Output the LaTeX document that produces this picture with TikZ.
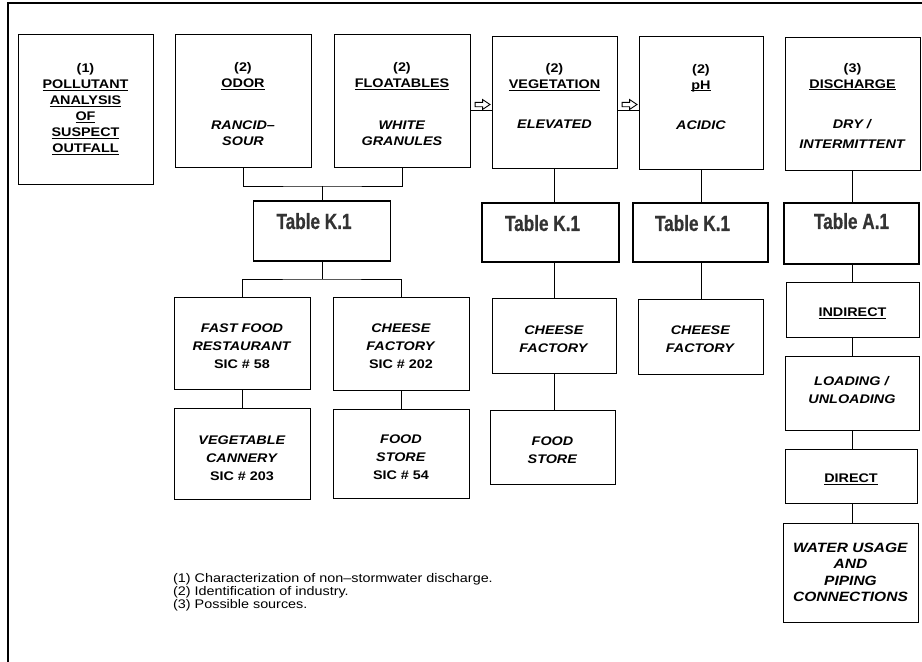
\documentclass[tikz,border=0pt]{standalone}
\usepackage{fontspec}
\setmainfont[FakeStretch=1.15]{Liberation Sans}
\newfontfamily\tabfont[FakeStretch=0.78,FakeBold=0.6]{Liberation Sans}
\usetikzlibrary{calc}
\definecolor{tabgray}{HTML}{333333}
\newsavebox\ulbox
\newcommand\ulx[1]{\sbox\ulbox{#1}\rlap{\rule[-2.4pt]{\wd\ulbox}{1.1pt}}\usebox\ulbox}
\newcommand\tp[1]{\rule{0pt}{#1pt}}
\newcommand\bt[1]{\rule[-#1pt]{0pt}{#1pt}}
\tikzset{
  bx/.style={draw, line width=0.9pt, inner sep=0pt, align=center,
    font=\bfseries\fontsize{12.5}{16}\selectfont},
  lbx/.style={bx, font=\bfseries\fontsize{12.5}{18}\selectfont},
  wbx/.style={bx, font=\bfseries\fontsize{13.5}{16.5}\selectfont},
  tbx/.style={draw, line width=1.8pt, inner sep=0pt},
  ttxt/.style={font=\tabfont\bfseries\fontsize{22}{24}\selectfont, text=tabgray, inner sep=0pt},
  conn/.style={line width=0.8pt},
  harrow/.style={line width=0.9pt, fill=white, line join=miter},
  frame/.style={line width=2pt},
  note/.style={align=left, inner sep=0pt, font=\fontsize{12.5}{12.8}\selectfont}
}
\begin{document}
\begin{tikzpicture}[x=1pt,y=-1pt]
\useasboundingbox (0,0) rectangle (922,662);
\draw[frame] (8,662) -- (8,3) -- (922,3);

% top row
\node[bx, minimum width=135pt, minimum height=150pt] (pol) at (85.5,109)
  {(1)\\ \ulx{POLLUTANT}\\ \ulx{ANALYSIS}\\ \ulx{OF}\\ \ulx{SUSPECT}\\ \ulx{OUTFALL}};
\node[bx, minimum width=136pt, minimum height=133pt] (odor) at (243,100.5)
  {\tp{17}(2)\\ \ulx{ODOR}\\[26pt] \textit{RANCID–}\\ \textit{SOUR}};
\node[bx, minimum width=136pt, minimum height=133pt] (flo) at (402,100.5)
  {\tp{17}(2)\\ \ulx{FLOATABLES}\\[26pt] \textit{WHITE}\\ \textit{GRANULES}};
\node[bx, minimum width=125pt, minimum height=132pt] (veg) at (554.5,102)
  {(2)\\ \ulx{VEGETATION}\\[24pt] \textit{ELEVATED}\bt{12}};
\node[bx, minimum width=124pt, minimum height=133pt] (ph) at (701,102.5)
  {(2)\\ \ulx{pH}\\[24pt] \textit{ACIDIC}\bt{12}};
\node[bx, minimum width=135pt, minimum height=133pt] (dis) at (852.5,103.5)
  {\tp{13}(3)\\ \ulx{DISCHARGE}\\[24pt] \textit{DRY /}\\[4pt] \textit{INTERMITTENT}};

% table boxes
\node[tbx, minimum width=137pt, minimum height=60pt] (tk1) at (322,231) {};
\node[ttxt] (tk1t) at ($(tk1.north)+(-8,21)$) {Table K.1};
\node[tbx, minimum width=137pt, minimum height=59pt] (tk2) at (550.5,232.5) {};
\node[ttxt] (tk2t) at ($(tk2.north)+(-8,21)$) {Table K.1};
\node[tbx, minimum width=135pt, minimum height=59pt] (tk3) at (700.5,232.5) {};
\node[ttxt] (tk3t) at ($(tk3.north)+(-8,21)$) {Table K.1};
\node[tbx, minimum width=135pt, minimum height=61pt] (ta1) at (851.5,233.5) {};
\node[ttxt] (ta1t) at ($(ta1.north)+(0,19)$) {Table A.1};

% lower boxes, left group
\node[lbx, minimum width=136pt, minimum height=92pt] (ff) at (242,343)
  {\tp{15}\textit{FAST FOOD}\\ \textit{RESTAURANT}\\ SIC \# 58};
\node[lbx, minimum width=136pt, minimum height=93pt] (cf) at (401,343.5)
  {\tp{15}\textit{CHEESE}\\ \textit{FACTORY}\\ SIC \# 202};
\node[lbx, minimum width=136pt, minimum height=91pt] (vc) at (242,453.5)
  {\tp{18}\textit{VEGETABLE}\\ \textit{CANNERY}\\ SIC \# 203};
\node[lbx, minimum width=136pt, minimum height=89pt] (fs) at (401,453.5)
  {\tp{17}\textit{FOOD}\\ \textit{STORE}\\ SIC \# 54};

% vegetation / pH columns
\node[lbx, minimum width=124pt, minimum height=75pt] (vcf) at (554,335.5)
  {\tp{16}\textit{CHEESE}\\ \textit{FACTORY}};
\node[lbx, minimum width=125pt, minimum height=74pt] (vfs) at (552.5,447)
  {\tp{15}\textit{FOOD}\\ \textit{STORE}};
\node[lbx, minimum width=125pt, minimum height=75pt] (pcf) at (700.5,336.5)
  {\tp{14}\textit{CHEESE}\\ \textit{FACTORY}};

% discharge column
\node[bx, minimum width=133pt, minimum height=55pt] (ind) at (852.5,309.5) {\tp{17}\ulx{INDIRECT}};
\node[lbx, minimum width=134pt, minimum height=74pt] (load) at (852,393)
  {\textit{LOADING /}\\ \textit{UNLOADING}\bt{6}};
\node[bx, minimum width=132pt, minimum height=54pt] (dir) at (851,476) {\tp{15}\ulx{DIRECT}};
\node[wbx, minimum width=135pt, minimum height=99pt] (wat) at (850.5,572.5)
  {\textit{WATER USAGE}\\ \textit{AND}\\ \textit{PIPING}\\ \textit{CONNECTIONS}};

% notes
\node[note, anchor=north west] (notes) at (173,573.5)
  {(1) Characterization of non–stormwater discharge.\\
   (2) Identification of industry.\\
   (3) Possible sources.};

% connectors, left group
\coordinate (j1) at (322,186);
\coordinate (j2) at (322,279);
\draw[conn] (odor.south) |- (j1) -| (flo.south);
\draw[conn] (j1) -- (j1 |- tk1.north);
\draw[conn] (j2 |- tk1.south) -- (j2);
\draw[conn] (ff.north) |- (j2) -| (cf.north);
\draw[conn] (ff.south) -- (vc.north);
\draw[conn] (cf.south) -- (fs.north);

% vegetation column
\draw[conn] (veg.south) -- (veg.south |- tk2.north);
\draw[conn] (tk2.south -| veg.south) -- (veg.south |- vcf.north);
\draw[conn] (vcf.south -| veg.south) -- (veg.south |- vfs.north);

% pH column
\draw[conn] (ph.south) -- (ph.south |- tk3.north);
\draw[conn] (tk3.south -| ph.south) -- (ph.south |- pcf.north);

% discharge column
\draw[conn] (dis.south) -- (dis.south |- ta1.north);
\draw[conn] (ta1.south -| dis.south) -- (dis.south |- ind.north);
\draw[conn] (ind.south -| dis.south) -- (dis.south |- load.north);
\draw[conn] (load.south -| dis.south) -- (dis.south |- dir.north);
\draw[conn] (dir.south -| dis.south) -- (dis.south |- wat.north);

% arrows between top boxes
\draw[conn] ([yshift=-9.5pt]flo.east) coordinate (a1) -- (a1 -| veg.west);
\coordinate (m1) at ($(a1 -| veg.west)+(-9,-5.5)$);
\draw[harrow, shift={(m1)}] (-7.5,-2.2) -- (0,-2.2) -- (0,-5) -- (7.5,0) -- (0,5) -- (0,2.2) -- (-7.5,2.2) -- cycle;
\draw[conn] ([yshift=-8pt]veg.east) coordinate (a2) -- (a2 -| ph.west);
\coordinate (m2) at ($(a2 -| ph.west)+(-9,-5.5)$);
\draw[harrow, shift={(m2)}] (-7.5,-2.2) -- (0,-2.2) -- (0,-5) -- (7.5,0) -- (0,5) -- (0,2.2) -- (-7.5,2.2) -- cycle;
\end{tikzpicture}
\end{document}
